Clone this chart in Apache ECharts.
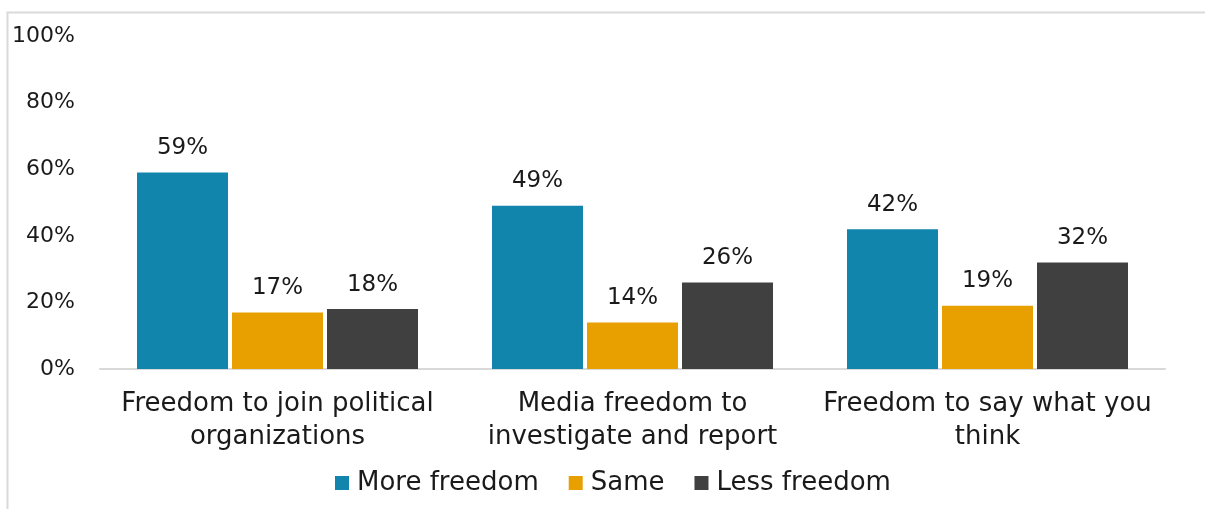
<!DOCTYPE html>
<html><head><meta charset="utf-8">
<script src="https://cdn.jsdelivr.net/npm/echarts@6/dist/echarts.min.js"></script>
<style>html,body{margin:0;padding:0;background:#fff}#c{width:1205px;height:509px}</style>
</head><body><div id="c"></div>
<script>
const categories = ["Freedom to join political\norganizations", "Media freedom to\ninvestigate and report", "Freedom to say what you\nthink"];
const moreFreedom = [59, 49, 42];
const same = [17, 14, 19];
const lessFreedom = [18, 26, 32];
const seriesNames = ["More freedom", "Same", "Less freedom"];
const colors = ["#1185AC", "#E8A000", "#404040"];
const FONT = "DejaVu Sans";
const chart = echarts.init(document.getElementById('c'));
const lbl = {show: true, position: 'top', distance: 13, formatter: p => p.value + '%', fontFamily: FONT, fontSize: 23, color: '#1a1a1a'};
chart.setOption({
  animation: false,
  textStyle: {fontFamily: FONT},
  graphic: [{type: 'rect', shape: {x: 7.5, y: 12.5, width: 1300, height: 600}, style: {fill: 'none', stroke: '#d9d9d9', lineWidth: 2}, silent: true}],
  grid: {left: 100, right: 40, top: 36, bottom: 140},
  legend: {left: 335, top: 470, padding: 0, itemWidth: 14, itemHeight: 14, itemGap: 30, icon: 'rect',
    textStyle: {fontFamily: FONT, fontSize: 26, color: '#1a1a1a', padding: [0,0,0,3]}, data: seriesNames},
  xAxis: {type: 'category', data: categories,
    axisLine: {lineStyle: {color: '#d9d9d9', width: 2}}, axisTick: {show: false},
    axisLabel: {interval: 0, fontFamily: FONT, fontSize: 26, color: '#1a1a1a', lineHeight: 33, margin: 19}},
  yAxis: {type: 'value', min: 0, max: 100, interval: 20,
    axisLabel: {formatter: '{value}%', fontFamily: FONT, fontSize: 22, color: '#1a1a1a', margin: 25},
    splitLine: {show: false}, axisLine: {show: false}, axisTick: {show: false}},
  series: [
    {name: seriesNames[0], type: 'bar', data: moreFreedom, barWidth: 91, barGap: '4.4%', itemStyle: {color: colors[0]}, label: lbl},
    {name: seriesNames[1], type: 'bar', data: same, barWidth: 91, barGap: '4.4%', itemStyle: {color: colors[1]}, label: lbl},
    {name: seriesNames[2], type: 'bar', data: lessFreedom, barWidth: 91, barGap: '4.4%', itemStyle: {color: colors[2]}, label: lbl}
  ]
});
</script></body></html>
